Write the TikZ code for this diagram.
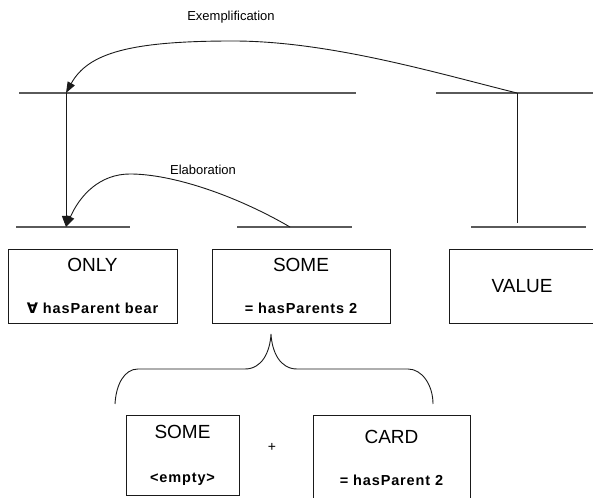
\documentclass[tikz,border=0pt]{standalone}
\usepackage{fontspec}
\setmainfont{Liberation Sans}
\newfontfamily\forallfont{DejaVu Sans}
\usepackage{xcolor}
\definecolor{cLine}{HTML}{1A1A1A}
\definecolor{cRule}{HTML}{5A5A5A}
\usetikzlibrary{arrows.meta}
\newcommand\detailfont{\fontsize{14.5}{17}\selectfont\bfseries\addfontfeatures{LetterSpace=6}}
\tikzset{
  node-box/.style={draw=cLine,line width=0.9pt,minimum height=74pt,
    inner sep=0pt,align=center,font=\fontsize{19}{22}\selectfont},
  node-label/.style={font=\fontsize{13}{15}\selectfont},
  rule/.style={draw=cRule,line width=1.2pt},
  link/.style={draw=cLine,line width=0.9pt},
  arrow/.style={-{Triangle[length=11pt,width=8pt]},line width=0.9pt,draw=cLine},
}

\begin{document}
\begin{tikzpicture}[x=1pt,y=1pt]
  \useasboundingbox (0,0) rectangle (593,497);
  \clip (0,0) rectangle (593,497);

  % the two levels of rules
  \coordinate (top-l-a) at (19,404);  \coordinate (top-l-b) at (356,404);
  \coordinate (top-r-a) at (436,404); \coordinate (top-r-b) at (593,404);
  \coordinate (low-1-a) at (16,270);  \coordinate (low-1-b) at (130,270);
  \coordinate (low-2-a) at (237,270); \coordinate (low-2-b) at (352,270);
  \coordinate (low-3-a) at (471,270); \coordinate (low-3-b) at (586,270);
  \draw[rule] (top-l-a) -- (top-l-b);
  \draw[rule] (top-r-a) -- (top-r-b);
  \draw[rule] (low-1-a) -- (low-1-b);
  \draw[rule] (low-2-a) -- (low-2-b);
  \draw[rule] (low-3-a) -- (low-3-b);

  \coordinate (ex-from) at (517,404);
  \coordinate (ex-to) at (66,404);
  \coordinate (only-to) at (66,270);
  \coordinate (value-to) at (517,274);
  \coordinate (el-from) at (290,270);

  \draw[arrow] (ex-to) -- (only-to);
  \draw[link] (ex-from) -- (value-to);

  % Exemplification / Elaboration
  \draw[arrow] (ex-from) .. controls (440,423) and (330,456) .. (233,456)
    .. controls (130,456) and (88,444) .. (ex-to);
  \node[node-label] (ex-label) at (231,480) {Exemplification};
  \draw[arrow] (el-from) .. controls (235,302) and (172,323) .. (130,323)
    .. controls (100,323) and (80,302) .. (only-to);
  \node[node-label] (el-label) at (203,327) {Elaboration};

  \node[node-box,minimum width=169pt] (only) at (92.5,211)
    {ONLY\\[20pt]{\detailfont{\forallfont ∀} hasParent bear}};
  \node[node-box,minimum width=178pt] (some) at (301,211)
    {SOME\\[20pt]{\detailfont = hasParents 2}};
  \node[node-box,minimum width=146pt] (value) at (522,211) {VALUE};

  % brace under SOME
  \draw[link] (115,93) .. controls (116,112) and (124,128) .. (138,128)
    -- (245,128) .. controls (262,128) and (270,145) .. (271,163)
    .. controls (272,145) and (280,128) .. (297,128)
    -- (408,128) .. controls (422,128) and (433,112) .. (433,93);

  \node[node-box,minimum width=113pt,minimum height=80pt] (some-part) at (182.5,42)
    {SOME\\[22pt]{\detailfont <empty>}};
  \node[font=\fontsize{14}{16}\selectfont] (plus) at (272,50) {+};
  \node[node-box,minimum width=157pt,minimum height=85pt] (card) at (391.5,39.5)
    {CARD\\[20pt]{\detailfont = hasParent 2}};
\end{tikzpicture}
\end{document}
